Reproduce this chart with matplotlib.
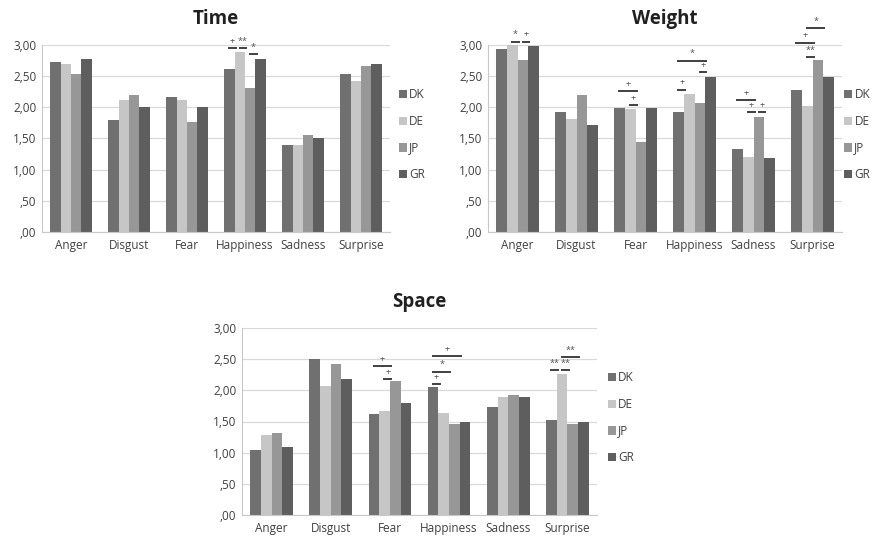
import matplotlib
matplotlib.use("Agg")
import matplotlib.pyplot as plt
import numpy as np

plt.rcParams['font.family'] = ['Open Sans', 'DejaVu Sans']

categories = ["Anger", "Disgust", "Fear", "Happiness", "Sadness", "Surprise"]
groups = ["DK", "DE", "JP", "GR"]
colors = ["#707070", "#c6c6c6", "#979797", "#5e5e5e"]

time_dk = [2.73, 1.80, 2.17, 2.62, 1.40, 2.53]
time_de = [2.70, 2.12, 2.11, 2.89, 1.40, 2.43]
time_jp = [2.54, 2.19, 1.76, 2.31, 1.56, 2.67]
time_gr = [2.78, 2.00, 2.00, 2.78, 1.50, 2.69]

weight_dk = [2.93, 1.93, 1.99, 1.93, 1.33, 2.28]
weight_de = [3.00, 1.82, 1.97, 2.22, 1.21, 2.02]
weight_jp = [2.76, 2.20, 1.44, 2.07, 1.85, 2.76]
weight_gr = [2.99, 1.72, 1.99, 2.49, 1.19, 2.49]

space_dk = [1.05, 2.50, 1.62, 2.06, 1.73, 1.53]
space_de = [1.28, 2.07, 1.67, 1.64, 1.90, 2.27]
space_jp = [1.31, 2.42, 2.15, 1.46, 1.93, 1.46]
space_gr = [1.09, 2.18, 1.80, 1.49, 1.90, 1.49]

yticks = [0, 0.5, 1.0, 1.5, 2.0, 2.5, 3.0]
ytick_labels = [",00", ",50", "1,00", "1,50", "2,00", "2,50", "3,00"]

# significance markers: (category index, bar i, bar j, height, label)
time_sig = [(3, 0, 1, 2.95, "+"), (3, 1, 2, 2.95, "**"), (3, 2, 3, 2.85, "*")]
weight_sig = [(0, 1, 2, 3.05, "*"), (0, 2, 3, 3.05, "+"),
              (2, 0, 2, 2.26, "+"), (2, 1, 2, 2.03, "+"),
              (3, 0, 1, 2.28, "+"), (3, 0, 3, 2.75, "*"), (3, 2, 3, 2.56, "+"),
              (4, 0, 2, 2.11, "+"), (4, 1, 2, 1.92, "+"), (4, 2, 3, 1.92, "+"),
              (5, 0, 2, 3.04, "+"), (5, 1, 2, 2.80, "**"), (5, 1, 3, 3.27, "*")]
space_sig = [(2, 0, 2, 2.39, "+"), (2, 1, 2, 2.18, "+"),
             (3, 0, 1, 2.10, "+"), (3, 0, 2, 2.30, "*"), (3, 0, 3, 2.55, "+"),
             (5, 0, 1, 2.32, "**"), (5, 1, 2, 2.32, "**"), (5, 1, 3, 2.53, "**")]

W, H = 880, 536
fig = plt.figure(figsize=(W / 100, H / 100), dpi=100)

bw = 0.18
offsets = (np.arange(4) - 1.5) * bw


def panel(rect, title, series, sig, legend_x):
    ax = fig.add_axes(rect)
    x = np.arange(len(categories))
    for k, vals in enumerate(series):
        ax.bar(x + offsets[k], vals, width=bw, color=colors[k], label=groups[k],
               edgecolor="none", zorder=2)
    ax.set_ylim(0, 3)
    ax.set_xlim(-0.5, len(categories) - 0.5)
    ax.set_yticks(yticks)
    ax.set_yticklabels(ytick_labels)
    ax.set_xticks(x)
    ax.set_xticklabels(categories)
    ax.tick_params(axis="both", labelsize=8.5, colors="#404040", length=0, pad=5)
    ax.tick_params(axis="y", pad=4)
    ax.yaxis.grid(True, color="#d9d9d9", linewidth=0.9, zorder=0)
    ax.set_axisbelow(True)
    for s in ["top", "right"]:
        ax.spines[s].set_visible(False)
    ax.spines["left"].set_color("#c8c8c8")
    ax.spines["bottom"].set_color("#c8c8c8")
    ax.set_title(title, fontsize=13.5, fontweight="bold", color="#202020", pad=15)
    for (c, i, j, h, lab) in sig:
        x0 = c + offsets[i] - 0.02
        x1 = c + offsets[j] - 0.05
        ax.plot([x0, x1], [h, h], color="#404040", lw=1.4, clip_on=False, zorder=3,
                solid_capstyle="butt")
        ax.text((x0 + x1) / 2, h + 0.04, lab, ha="center", va="bottom",
                fontsize=6.5, color="#505050", clip_on=False)
    leg = ax.legend(loc="center left", bbox_to_anchor=(legend_x, 0.52), frameon=False,
                    fontsize=8.5, handlelength=0.7, handleheight=0.7, handletextpad=0.2,
                    labelspacing=1.15, borderaxespad=0, borderpad=0)
    for t in leg.get_texts():
        t.set_color("#404040")
    return ax


def rect(l, r, t, b):
    return [l / W, 1 - b / H, (r - l) / W, (b - t) / H]


panel(rect(42, 390, 45, 232), "Time", [time_dk, time_de, time_jp, time_gr], time_sig, 1.025)
panel(rect(488, 842, 45, 232), "Weight", [weight_dk, weight_de, weight_jp, weight_gr], weight_sig, 1.005)
panel(rect(242, 597, 328, 515), "Space", [space_dk, space_de, space_jp, space_gr], space_sig, 1.03)

fig.savefig("out.png", dpi=100)
